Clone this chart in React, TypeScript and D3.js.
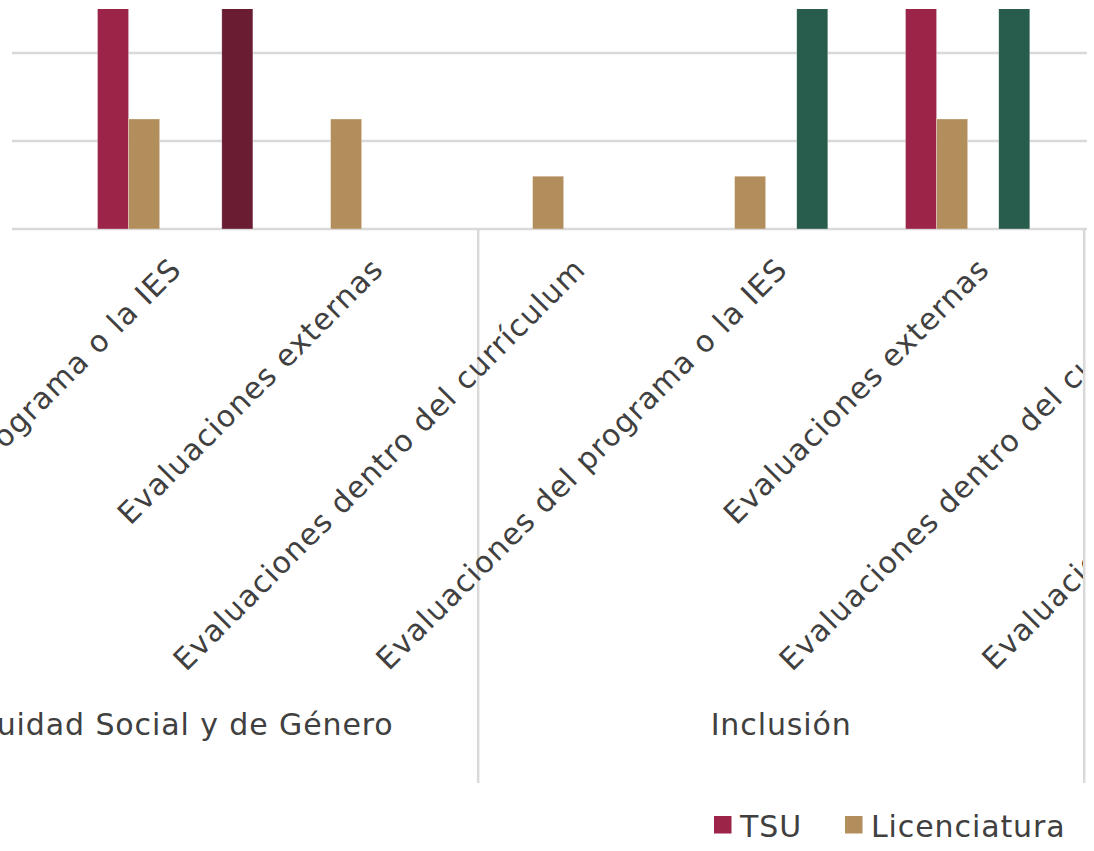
import React from "react";
import * as d3 from "d3";

// ---- data ----
const groupNames = ["Equidad Social y de Género", "Inclusión", ""]; // third group title lies outside the picture
const subCategories = [
  "Evaluaciones dentro del currículum",
  "Evaluaciones del programa o la IES",
  "Evaluaciones externas",
];
const seriesNames = ["TSU", "Licenciatura", "Especialidad", "Maestría", "Doctorado"];
const seriesColors = ["#9D2449", "#B38E5D", "#DDC9A3", "#285C4D", "#691C32"];
// values per category (3 groups x 3 sub-categories); null = outside the picture
const tsuValues = [null, 1, 0, 0, 0, 1, null, null, null];
const licValues = [null, 0.25, 0.25, 0.12, 0.12, 0.25, null, null, null];
const espValues = [null, 0, 0, 0, 0, 0, null, null, null];
const maeValues = [null, 0, 0, 0, 1, 1, null, null, null];
const docValues = [null, 1, 0, 0, 0, 0, null, null, null];
const gridTicks = [0, 0.2, 0.4];
const legendItems = ["TSU", "Licenciatura"];

const allValues = [tsuValues, licValues, espValues, maeValues, docValues];

const W = 1094;
const H = 851;
const FONT = "'DejaVu Sans', sans-serif";
const TEXT = "#404040";
const GRID = "#D9D9D9";

export default function App() {
  const cats = groupNames.flatMap((g, gi) => subCategories.map((s, si) => `${gi}|${si}`));
  const x = d3.scaleBand<string>().domain(cats).range([-127.8, -127.8 + 202 * cats.length]).padding(0);
  const xs = d3.scaleBand<string>().domain(seriesNames).range([0, x.bandwidth()]).paddingInner(0).paddingOuter(0.75);
  const y = d3.scaleLinear().domain([0, 0.5]).range([229, 9]);
  const gridLeft = 12;
  const gridRight = 1087;

  const groupBounds = groupNames.map((g, gi) => {
    const first = x(`${gi}|0`)!;
    const last = x(`${gi}|${subCategories.length - 1}`)! + x.bandwidth();
    return { name: g, x0: first, x1: last };
  });

  return (
    <svg width={W} height={H} style={{ position: "absolute", left: 0, top: 0, background: "#fff" }} fontFamily={FONT}>
      <defs>
        <clipPath id="plotClip">
          <rect x={0} y={y(0.5)} width={gridRight} height={y(0) - y(0.5)} />
        </clipPath>
        <clipPath id="labelClip">
          <rect x={0} y={0} width={1083} height={H} />
        </clipPath>
      </defs>
      <rect width={W} height={H} fill="#fff" />
      {/* gridlines */}
      {gridTicks.map((t) => (
        <line key={t} x1={gridLeft} x2={gridRight} y1={y(t)} y2={y(t)} stroke={GRID} strokeWidth={2.5} />
      ))}
      {/* bars */}
      <g clipPath="url(#plotClip)">
        {allValues.map((vals, si) =>
          vals.map((v, ci) => {
            if (v == null || v <= 0) return null;
            const xx = x(cats[ci])! + xs(seriesNames[si])!;
            return (
              <rect
                key={`${si}-${ci}`}
                x={xx}
                y={y(v)}
                width={xs.bandwidth()}
                height={y(0) - y(v)}
                fill={seriesColors[si]}
                stroke="#ffffff"
                strokeOpacity={0.5}
                strokeWidth={0.6}
              />
            );
          })
        )}
      </g>
      {/* group separators */}
      {groupBounds.map((g, i) => (
        <line key={i} x1={g.x1} x2={g.x1} y1={y(0)} y2={783} stroke={GRID} strokeWidth={2.5} />
      ))}
      {/* category labels */}
      <g clipPath="url(#labelClip)" fill={TEXT} fontSize={30}>
        {cats.map((c, ci) => {
          const si = ci % subCategories.length;
          const cx = x(c)! + x.bandwidth() / 2 + 8;
          const cy = 271;
          return (
            <text key={c} transform={`translate(${cx},${cy}) rotate(-45)`} textAnchor="end" letterSpacing={1.1}>
              {subCategories[si]}
            </text>
          );
        })}
        {groupBounds
          .filter((g) => g.name)
          .map((g, i) => (
            <text key={i} x={(g.x0 + g.x1) / 2} y={735} textAnchor="middle" letterSpacing={0.9}>
              {g.name}
            </text>
          ))}
      </g>
      {/* legend */}
      <g fontSize={30} fill={TEXT} letterSpacing={0.9}>
        {legendItems.map((name, i) => {
          const lx = [714, 845][i];
          const color = seriesColors[seriesNames.indexOf(name)];
          return (
            <g key={name}>
              <rect x={lx} y={816} width={17.5} height={17.5} fill={color} />
              <text x={lx + 26} y={836.5}>
                {name}
              </text>
            </g>
          );
        })}
      </g>
    </svg>
  );
}
